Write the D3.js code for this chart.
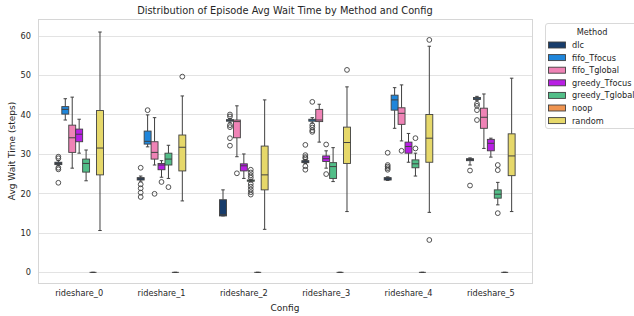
<!DOCTYPE html>
<html>
<head>
<meta charset="utf-8">
<script src="https://cdn.jsdelivr.net/npm/d3@7"></script>
<style>
  body { margin: 0; background: #fff; }
  text { font-family: "DejaVu Sans", sans-serif; fill: #262626; }
</style>
</head>
<body>
<script>
// Categories and series
var configs = ["rideshare_0", "rideshare_1", "rideshare_2", "rideshare_3", "rideshare_4", "rideshare_5"];
var methods = ["dlc", "fifo_Tfocus", "fifo_Tglobal", "greedy_Tfocus", "greedy_Tglobal", "noop", "random"];
var colors = ["#173c6b", "#1f86db", "#ef83b6", "#b81fe3", "#52be88", "#ef9450", "#e6d86a"];
var yTicks = [0, 10, 20, 30, 40, 50, 60];

// five-number summaries per config: [whisker low, q1, median, q3, whisker high]
var dlcStats = [[27.0, 27.3, 27.6, 27.9, 28.3], [23.1, 23.4, 23.7, 24.0, 24.4], [14.3, 14.3, 14.6, 18.4, 20.9],
                [27.6, 27.8, 28.0, 28.3, 28.6], [23.3, 23.4, 23.7, 24.0, 24.2], [27.2, 28.3, 28.6, 28.8, 29.0]];
var fifoTfocusStats = [[38.6, 40.1, 41.3, 42.0, 44.0], [31.8, 32.5, 33.2, 35.8, 39.9], [37.9, 38.3, 38.5, 38.7, 39.0],
                       [37.8, 38.3, 38.6, 38.8, 39.2], [36.5, 41.1, 43.7, 44.9, 46.8], [43.5, 43.8, 44.0, 44.3, 44.6]];
var fifoTglobalStats = [[26.4, 30.4, 34.1, 37.3, 44.4], [27.2, 28.7, 30.4, 33.1, 39.2], [29.3, 34.1, 38.2, 38.6, 42.2],
                        [33.0, 38.2, 38.6, 41.3, 42.6], [33.3, 37.5, 40.3, 41.7, 47.5], [31.4, 36.5, 39.3, 41.6, 45.2]];
var greedyTfocusStats = [[30.2, 33.1, 35.0, 36.3, 38.8], [24.1, 26.0, 27.2, 27.6, 28.3], [23.8, 25.7, 27.0, 27.5, 30.0],
                         [26.4, 28.1, 28.8, 29.5, 30.8], [27.9, 30.2, 31.9, 33.0, 35.2], [29.2, 30.8, 32.7, 33.7, 34.0]];
var greedyTglobalStats = [[23.2, 25.4, 27.6, 28.7, 31.0], [23.8, 27.2, 28.7, 30.2, 32.2], [22.9, 23.1, 23.2, 23.4, 23.6],
                          [23.0, 23.8, 26.8, 27.8, 31.6], [24.4, 26.5, 27.5, 28.5, 30.2], [17.1, 18.8, 19.8, 20.9, 22.8]];
var noopStats = [[0, 0, 0, 0, 0], [0, 0, 0, 0, 0], [0, 0, 0, 0, 0], [0, 0, 0, 0, 0], [0, 0, 0, 0, 0], [0, 0, 0, 0, 0]];
var randomStats = [[10.6, 24.7, 31.5, 41.0, 60.9], [18.1, 25.7, 31.7, 34.8, 44.7], [10.9, 20.9, 24.7, 32.0, 43.7],
                   [15.4, 27.6, 32.9, 36.8, 47.0], [15.2, 27.9, 34.0, 40.0, 57.3], [15.4, 24.5, 29.5, 35.1, 49.2]];

// outliers per config
var dlcOut = [[29.3, 28.9, 26.5, 26.1, 22.7], [26.5, 22.3, 21.3, 20.2, 19.1], [],
              [32.3, 29.7, 29.2, 28.9, 26.9, 26.0], [30.3, 27.2, 26.8, 26.4, 26.0], [25.8, 22.0]];
var fifoTfocusOut = [[], [41.1], [40.0, 39.5, 37.3, 36.8, 34.0, 32.1], [43.2, 37.3, 36.7, 36.0, 35.6], [], [42.7, 42.2, 41.1, 38.6]];
var fifoTglobalOut = [[], [19.9], [25.1], [], [30.8], []];
var greedyTfocusOut = [[], [22.9], [], [32.4, 24.9], [], []];
var greedyTglobalOut = [[], [21.6], [26.0, 25.3, 24.6, 24.0, 22.4, 21.7, 21.0, 20.3, 19.7], [], [34.0, 31.4], [27.2, 25.9, 15.0]];
var noopOut = [[], [], [], [], [], []];
var randomOut = [[], [49.6], [], [51.3], [58.9, 8.2], []];

var allStats = [dlcStats, fifoTfocusStats, fifoTglobalStats, greedyTfocusStats, greedyTglobalStats, noopStats, randomStats];
var allOut = [dlcOut, fifoTfocusOut, fifoTglobalOut, greedyTfocusOut, greedyTglobalOut, noopOut, randomOut];

var width = 634, height = 316;
var margin = {left: 38, right: 102, top: 19, bottom: 33};

var svg = d3.select("body").append("svg")
    .attr("width", width)
    .attr("height", height);

var x = d3.scaleBand()
    .domain(configs)
    .range([margin.left, width - margin.right]);

// dodge methods inside each config band
var groupW = x.bandwidth() * 0.59;
var xHue = d3.scaleBand()
    .domain(methods)
    .range([-groupW / 2, groupW / 2]);

var y = d3.scaleLinear()
    .domain([-2.7, 64.2])
    .range([height - margin.bottom, margin.top]);

// grid lines
svg.append("g")
    .selectAll("line")
    .data(yTicks)
    .enter().append("line")
    .attr("x1", margin.left)
    .attr("x2", width - margin.right)
    .attr("y1", function (d) { return Math.round(y(d)) + 0.5; })
    .attr("y2", function (d) { return Math.round(y(d)) + 0.5; })
    .attr("stroke", "#e3e3e3")
    .attr("stroke-width", 1);

// frame
svg.append("rect")
    .attr("x", margin.left + 0.5)
    .attr("y", margin.top + 0.5)
    .attr("width", width - margin.right - margin.left)
    .attr("height", height - margin.bottom - margin.top)
    .attr("fill", "none")
    .attr("stroke", "#d6d6d6");

// axes
var yAxis = svg.append("g")
    .attr("transform", "translate(" + margin.left + ",0)")
    .call(d3.axisLeft(y).tickValues(yTicks).tickSize(0).tickPadding(7));
yAxis.select(".domain").remove();
yAxis.selectAll("text").style("font-size", "8.2px").attr("fill", "#333");

var xAxis = svg.append("g")
    .attr("transform", "translate(0," + (height - margin.bottom) + ")")
    .call(d3.axisBottom(x).tickSize(0).tickPadding(7));
xAxis.select(".domain").remove();
xAxis.selectAll("text").style("font-size", "8.2px").attr("fill", "#333");

// boxes
var boxW = xHue.bandwidth();
var capW = boxW / 2;
var edge = "#404040";

methods.forEach(function (m, mi) {
    var g = svg.append("g").attr("class", "method-" + m);
    configs.forEach(function (c, ci) {
        var s = allStats[mi][ci];
        var cx = x(c) + x.bandwidth() / 2 + xHue(m) + boxW / 2;
        // whiskers
        g.append("line")
            .attr("x1", cx).attr("x2", cx)
            .attr("y1", y(s[3])).attr("y2", y(s[4]))
            .attr("stroke", edge).attr("stroke-width", 1);
        g.append("line")
            .attr("x1", cx).attr("x2", cx)
            .attr("y1", y(s[1])).attr("y2", y(s[0]))
            .attr("stroke", edge).attr("stroke-width", 1);
        // caps
        [s[0], s[4]].forEach(function (v) {
            g.append("line")
                .attr("x1", cx - capW / 2).attr("x2", cx + capW / 2)
                .attr("y1", y(v)).attr("y2", y(v))
                .attr("stroke", edge).attr("stroke-width", 1);
        });
        // box
        g.append("rect")
            .attr("x", cx - boxW / 2)
            .attr("y", y(s[3]))
            .attr("width", boxW)
            .attr("height", Math.max(y(s[1]) - y(s[3]), 0))
            .attr("fill", colors[mi])
            .attr("stroke", edge)
            .attr("stroke-width", 0.9);
        // median
        g.append("line")
            .attr("x1", cx - boxW / 2).attr("x2", cx + boxW / 2)
            .attr("y1", y(s[2])).attr("y2", y(s[2]))
            .attr("stroke", edge).attr("stroke-width", 1);
        // outliers
        g.selectAll("circle.o" + ci)
            .data(allOut[mi][ci])
            .enter().append("circle")
            .attr("cx", cx)
            .attr("cy", function (d) { return y(d); })
            .attr("r", 2.4)
            .attr("fill", "none")
            .attr("stroke", edge)
            .attr("stroke-width", 0.9);
    });
});

// title and labels
svg.append("text")
    .attr("x", (margin.left + width - margin.right) / 2)
    .attr("y", 14)
    .attr("text-anchor", "middle")
    .style("font-size", "9.8px")
    .text("Distribution of Episode Avg Wait Time by Method and Config");

svg.append("text")
    .attr("x", (margin.left + width - margin.right) / 2)
    .attr("y", 311)
    .attr("text-anchor", "middle")
    .style("font-size", "9px")
    .text("Config");

svg.append("text")
    .attr("transform", "translate(15," + ((margin.top + height - margin.bottom) / 2) + ") rotate(-90)")
    .attr("text-anchor", "middle")
    .style("font-size", "9px")
    .text("Avg Wait Time (steps)");

// legend
var legend = svg.append("g").attr("transform", "translate(545,23)");
legend.append("rect")
    .attr("x", 0.5).attr("y", 0.5)
    .attr("width", 100).attr("height", 105)
    .attr("rx", 2.5)
    .attr("fill", "#fff")
    .attr("stroke", "#d9d9d9");
legend.append("text")
    .attr("x", 47).attr("y", 11.5)
    .attr("text-anchor", "middle")
    .style("font-size", "8.2px")
    .text("Method");
methods.forEach(function (m, i) {
    var ly = 19 + i * 12.6;
    legend.append("rect")
        .attr("x", 3.5).attr("y", ly)
        .attr("width", 17).attr("height", 6)
        .attr("fill", colors[i])
        .attr("stroke", edge)
        .attr("stroke-width", 0.9);
    legend.append("text")
        .attr("x", 27).attr("y", ly + 6)
        .style("font-size", "8.2px")
        .text(m);
});
</script>
</body>
</html>
